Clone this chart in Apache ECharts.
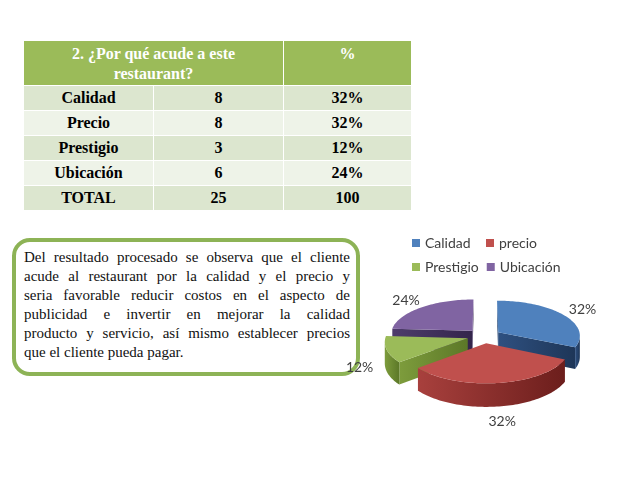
<!DOCTYPE html>
<html>
<head>
<meta charset="UTF-8">
<title>¿Por qué acude a este restaurant?</title>
<script src="https://cdn.jsdelivr.net/npm/echarts@6.0.0/dist/echarts.min.js"></script>
<style>
  html, body { margin: 0; padding: 0; background: #fff; }
  body { width: 638px; height: 479px; position: relative; overflow: hidden; }
  #tbl {
    position: absolute; left: 23px; top: 40px;
    border-collapse: collapse;
    font-family: "Liberation Serif", "DejaVu Serif", serif;
    font-weight: bold; font-size: 16px; color: #000;
    z-index: 1;
  }
  #tbl td { border: 1.5px solid #fff; text-align: center; padding: 0; height: 24px; }
  #tbl td.c1, #tbl td.c2 { width: 129px; }
  #tbl td.c3 { width: 127px; }
  #tbl tr.head td {
    background: #9BBB59; color: #fff; height: 41px;
    vertical-align: top; padding-top: 3px; line-height: 20px;
  }
  #tbl tr.dark td { background: #DCE6CF; }
  #tbl tr.light td { background: #EEF3E8; }
  #box {
    position: absolute; left: 12px; top: 238px;
    width: 326px; height: 122px;
    border: 4px solid #8DB356; border-radius: 18px;
    padding: 6px 6px 2px 8px;
    font-family: "Liberation Serif", "DejaVu Serif", serif;
    font-size: 15px; line-height: 19px; color: #111;
    z-index: 1;
  }
  #box div { text-align: justify; text-align-last: justify; white-space: nowrap; }
  #box div.last { text-align-last: left; }
  #main { position: absolute; left: 0; top: 0; width: 638px; height: 479px; z-index: 2; }
</style>
</head>
<body>
<table id="tbl"></table>
<div id="box"></div>
<div id="main"></div>
<script>
// tabla
var headerText = ['2. ¿Por qué acude a este', 'restaurant?'];
var headerPct = '%';
var rowLabels = ['Calidad', 'Precio', 'Prestigio', 'Ubicación'];
var rowCounts = [8, 8, 3, 6];
var rowPct = [32, 32, 12, 24];
var totalRow = ['TOTAL', '25', '100'];

// grafico
var pieNames = ['Calidad', 'precio', 'Prestigio', 'Ubicación'];
var pieValues = [8, 8, 3, 6];
var pieLabels = ['32%', '32%', '12%', '24%'];

var boxLines = [
  'Del resultado procesado se observa que el cliente',
  'acude al restaurant por la calidad y el precio y',
  'seria favorable reducir costos en el aspecto de',
  'publicidad e invertir en mejorar la calidad',
  'producto y servicio, así mismo establecer precios',
  'que el cliente pueda pagar.'
];

var topColors = ['#4F81BD', '#C0504D', '#9BBB59', '#8064A2'];
var sideColors = [
  ['#2E5080', '#1E3658'],
  ['#A8403D', '#6C1E1C'],
  ['#7D9C3C', '#5C7828'],
  ['#4E3C6C', '#33254B']
];

// ---- tabla html ----
var html = '<tr class="head"><td colspan="2">' + headerText.join('<br>') + '</td><td class="c3">' + headerPct + '</td></tr>';
rowLabels.forEach(function (lab, i) {
  html += '<tr class="' + (i % 2 == 0 ? 'dark' : 'light') + '">' +
    '<td class="c1">' + lab + '</td><td class="c2">' + rowCounts[i] + '</td><td class="c3">' + rowPct[i] + '%</td></tr>';
});
html += '<tr class="dark"><td class="c1">' + totalRow[0] + '</td><td class="c2">' + totalRow[1] + '</td><td class="c3">' + totalRow[2] + '</td></tr>';
document.getElementById('tbl').innerHTML = html;

document.getElementById('box').innerHTML = boxLines.map(function (l, i) {
  return '<div' + (i == boxLines.length - 1 ? ' class="last"' : '') + '>' + l + '</div>';
}).join('');

// ---- pastel 3d ----
var P = { cx: 484, cy: 336, rx: 82, ry: 35, depth: 21, explode: 17, persp: 0.09, start: 90 };

var total = pieValues.reduce(function (a, b) { return a + b; }, 0);
var slices = [];
var acc = P.start;
pieValues.forEach(function (v) {
  var a1 = acc, a2 = acc - 360 * v / total;
  var mid = (a1 + a2) / 2 * Math.PI / 180;
  var e = P.explode / P.rx;
  slices.push({ a1: a1, a2: a2, mid: mid, ox: e * Math.cos(mid), oy: e * Math.sin(mid) });
  acc = a2;
});

function proj(theta, r, ox, oy, z) {
  var t = theta * Math.PI / 180;
  var X = ox + r * Math.cos(t), Y = oy + r * Math.sin(t);
  var k = 1 / (1 + P.persp * Y);
  return [P.cx + X * P.rx * k, P.cy + (-Y * P.ry + z * P.depth) * k];
}
function area(pts) {
  var s = 0;
  for (var i = 0; i < pts.length; i++) {
    var a = pts[i], b = pts[(i + 1) % pts.length];
    s += a[0] * b[1] - b[0] * a[1];
  }
  return s / 2;
}
function grad(c) {
  return new echarts.graphic.LinearGradient(0, 0, 1, 0, [{ offset: 0, color: c[0] }, { offset: 1, color: c[1] }]);
}

function renderSlice(params, api) {
  var i = params.dataIndex;
  var s = slices[i];
  var ox = s.ox, oy = s.oy;
  var back = Math.round((1 + Math.sin(s.mid)) * 10);
  var kids = [];
  var side = grad(sideColors[i]);

  // caras radiales
  var f1 = [proj(0, 0, ox, oy, 0), proj(s.a1, 1, ox, oy, 0), proj(s.a1, 1, ox, oy, 1), proj(0, 0, ox, oy, 1)];
  var f2 = [proj(0, 0, ox, oy, 0), proj(0, 0, ox, oy, 1), proj(s.a2, 1, ox, oy, 1), proj(s.a2, 1, ox, oy, 0)];
  [f1, f2].forEach(function (f) {
    if (area(f) < 0) {
      kids.push({ type: 'polygon', shape: { points: f }, style: { fill: side }, z2: 30 - back });
    }
  });

  // pared exterior
  var n = Math.ceil((s.a1 - s.a2) / 1.5);
  var step = (s.a1 - s.a2) / n;
  var run = null;
  function flush() {
    if (run) {
      var pts = run.top.concat(run.bot.reverse());
      kids.push({ type: 'polygon', shape: { points: pts }, style: { fill: side }, z2: 30 - back });
      run = null;
    }
  }
  for (var j = 0; j < n; j++) {
    var t0 = s.a1 - j * step, t1 = s.a1 - (j + 1) * step;
    var q = [proj(t0, 1, ox, oy, 0), proj(t1, 1, ox, oy, 0), proj(t1, 1, ox, oy, 1), proj(t0, 1, ox, oy, 1)];
    if (area(q) < 0) {
      if (!run) run = { top: [q[0]], bot: [q[3]] };
      run.top.push(q[1]);
      run.bot.push(q[2]);
    } else {
      flush();
    }
  }
  flush();

  // cara superior
  var topPts = [proj(0, 0, ox, oy, 0)];
  for (var t = 0; t <= n; t++) topPts.push(proj(s.a1 - t * step, 1, ox, oy, 0));
  kids.push({ type: 'polygon', shape: { points: topPts }, style: { fill: topColors[i] }, z2: 60 });

  // etiqueta
  var lr = 1.32;
  var lz = Math.sin(s.mid) < 0 ? 0.5 - Math.sin(s.mid) * 0.5 : 0;
  var lp = proj(s.mid * 180 / Math.PI, lr, ox, oy, lz);
  kids.push({
    type: 'text', z2: 100,
    style: {
      text: pieLabels[i], x: lp[0], y: lp[1],
      fill: '#404040', font: '14px Lato, "Open Sans", sans-serif',
      textAlign: 'center', textVerticalAlign: 'middle'
    }
  });
  return { type: 'group', children: kids };
}

var myChart = echarts.init(document.getElementById('main'), null, { renderer: 'canvas' });
var option = {
  animation: false,
  legend: {
    data: pieNames,
    left: 407, top: 230, width: 170,
    orient: 'horizontal',
    icon: 'rect', itemWidth: 8, itemHeight: 8, itemGap: 8,
    textStyle: { color: '#404040', fontSize: 14, fontFamily: 'Lato, "Open Sans", sans-serif', width: 53, lineHeight: 16 }
  },
  series: [
    {
      type: 'pie',
      name: 'leyenda',
      radius: [0, 0],
      center: [-50, -50],
      silent: true,
      label: { show: false },
      labelLine: { show: false },
      data: pieNames.map(function (nm, i) {
        return { name: nm, value: pieValues[i], itemStyle: { color: topColors[i] } };
      })
    },
    {
      type: 'custom',
      name: 'pastel',
      coordinateSystem: 'none',
      silent: true,
      renderItem: renderSlice,
      data: pieValues.map(function (v, i) { return { name: pieNames[i], value: v }; })
    }
  ]
};
myChart.setOption(option);
</script>
</body>
</html>
